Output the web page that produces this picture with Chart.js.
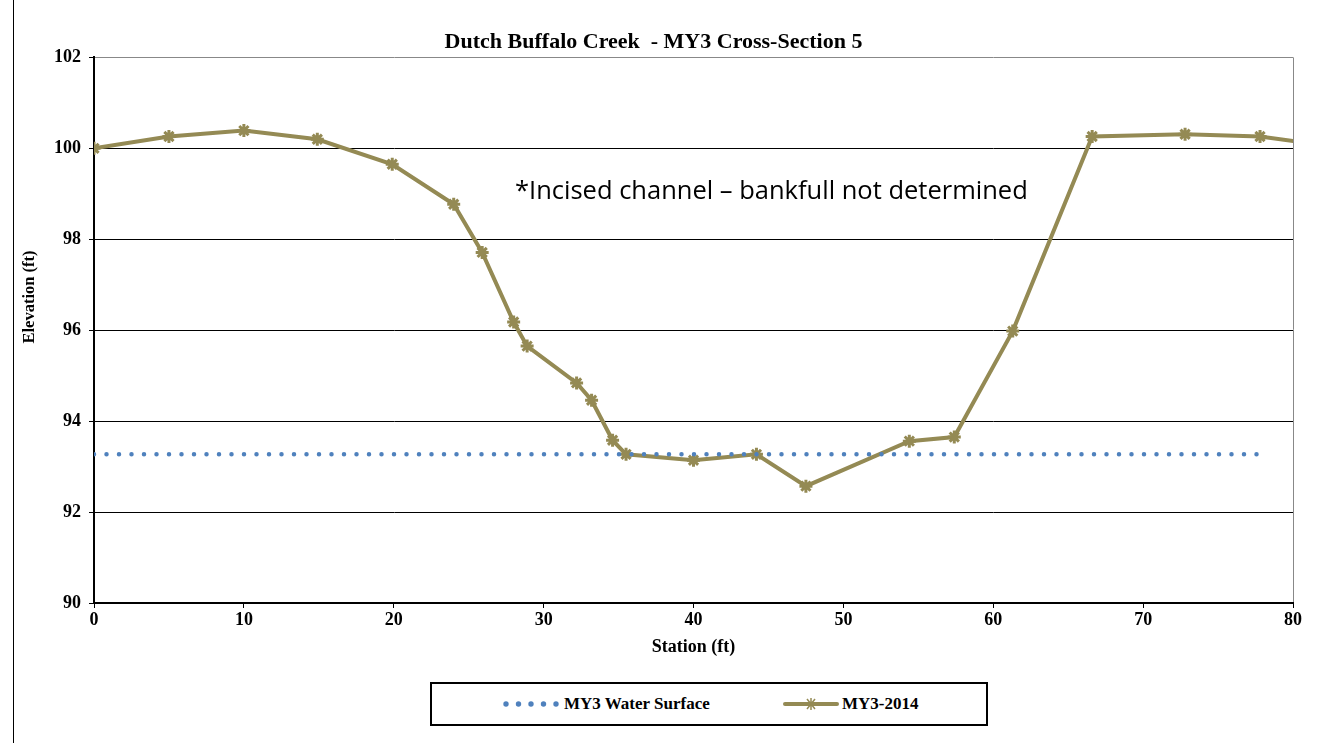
<!DOCTYPE html>
<html>
<head>
<meta charset="utf-8">
<script src="https://cdn.jsdelivr.net/npm/chart.js@4.4.1/dist/chart.umd.min.js"></script>
<style>
    html, body { margin: 0; padding: 0; background: #fff; }
    #wrap { position: relative; width: 1336px; height: 743px; overflow: hidden; }
    #frame { position: absolute; left: 13px; top: 0; width: 1px; height: 743px; background: #000; }
    #note { position: absolute; left: 515px; top: 172px; font: 25.5px "Open Sans", sans-serif; color: #000; white-space: nowrap; }
    #legend { position: absolute; left: 430px; top: 682px; width: 554px; height: 40px; border: 2px solid #000; background: #fff;
        font: bold 17px "Liberation Serif", serif; }
    .item { position: absolute; top: 10px; display: flex; align-items: center; }
</style>
</head>
<body>
<div id="wrap">
    <canvas id="chart" width="1336" height="743"></canvas>
    <div id="frame"></div>
    <div id="note">*Incised channel – bankfull not determined</div>
    <div id="legend">
        <div class="item" style="left:71px"><canvas id="lg1" width="56" height="16" style="margin-right:5px"></canvas><span>MY3 Water Surface</span></div>
        <div class="item" style="left:351px"><canvas id="lg2" width="56" height="16" style="margin-right:3px"></canvas><span>MY3-2014</span></div>
    </div>
</div>
<script>
// cross-section survey, station (ft) vs elevation (ft)
const stations = [0, 5, 10, 14.9, 19.9, 24.0, 25.9, 28.0, 28.9, 32.2, 33.2, 34.6, 35.5, 40.0, 44.2, 47.5, 54.4, 57.4, 61.3, 66.6, 72.8, 77.8, 82.5];
const elevations = [100.0, 100.26, 100.39, 100.2, 99.65, 98.77, 97.71, 96.18, 95.65, 94.84, 94.46, 93.58, 93.27, 93.14, 93.27, 92.57, 93.56, 93.65, 95.98, 100.26, 100.31, 100.26, 100.05];
const waterStations = [0, 77.8];
const waterElevations = [93.27, 93.27];
const xTicks = [0, 10, 20, 30, 40, 50, 60, 70, 80];
const yTicks = [90, 92, 94, 96, 98, 100, 102];

const olive = '#948A54';
const blue = '#4F81BD';
const axisFont = { family: 'Liberation Serif', size: 18, weight: 'bold' };

// y axis title sits a little above the middle of the plot in the original
const yTitle = {
    id: 'yTitle',
    afterDraw(chart) {
        const ctx = chart.ctx;
        ctx.save();
        ctx.translate(30, 297);
        ctx.rotate(-Math.PI / 2);
        ctx.font = 'bold 16.5px "Liberation Serif"';
        ctx.fillStyle = '#000';
        ctx.textAlign = 'center';
        ctx.textBaseline = 'middle';
        ctx.fillText('Elevation (ft)', 0, 0);
        ctx.restore();
    }
};

new Chart(document.getElementById('chart'), {
    type: 'line',
    data: {
        datasets: [{
            label: 'MY3 Water Surface',
            data: waterStations.map((s, i) => ({ x: s, y: waterElevations[i] })),
            borderColor: blue,
            borderWidth: 4.5,
            borderDash: [0, 12.5],
            borderCapStyle: 'round',
            pointRadius: 0,
            fill: false
        }, {
            label: 'MY3-2014',
            data: stations.map((s, i) => ({ x: s, y: elevations[i] })),
            borderColor: olive,
            backgroundColor: olive,
            borderWidth: 4,
            pointStyle: 'star',
            pointRadius: 6.5,
            pointBorderWidth: 3,
            pointBorderColor: olive,
            tension: 0,
            fill: false
        }]
    },
    options: {
        responsive: false,
        animation: false,
        layout: { padding: { left: 14, right: 43, top: 0, bottom: 83 } },
        plugins: {
            legend: { display: false },
            tooltip: { enabled: false },
            title: {
                display: true,
                text: 'Dutch Buffalo Creek  - MY3 Cross-Section 5',
                color: '#000',
                font: { family: 'Liberation Serif', size: 22, weight: 'bold' },
                padding: { top: 29, bottom: 2 }
            }
        },
        scales: {
            x: {
                type: 'linear',
                min: 0,
                max: 80,
                afterBuildTicks: s => { s.ticks = xTicks.map(v => ({ value: v })); },
                afterFit: s => { s.height = 57; },
                ticks: { color: '#000', font: axisFont, padding: 2 },
                grid: {
                    color: c => c.tick && c.tick.value === 80 ? '#888' : 'rgba(0,0,0,0)',
                    tickColor: '#000',
                    tickLength: 5
                },
                border: { color: '#000', width: 2 },
                title: {
                    display: true,
                    text: 'Station (ft)',
                    color: '#000',
                    font: axisFont,
                    padding: { top: 2, bottom: 2 }
                }
            },
            y: {
                min: 90,
                max: 102,
                afterBuildTicks: s => { s.ticks = yTicks.map(v => ({ value: v })); },
                afterFit: s => { s.width = 80; },
                ticks: { color: '#000', font: axisFont, padding: 8 },
                grid: {
                    color: c => c.tick && c.tick.value === 102 ? '#888' : '#000',
                    tickColor: '#000',
                    tickLength: 5
                },
                border: { color: '#000', width: 2 },
                title: { display: false }
            }
        }
    },
    plugins: [yTitle]
});

// legend samples
const l1 = document.getElementById('lg1').getContext('2d');
l1.fillStyle = blue;
for (let i = 0; i < 5; i++) {
    l1.beginPath();
    l1.arc(3 + i * 12.5, 8, 2.7, 0, Math.PI * 2);
    l1.fill();
}
const l2 = document.getElementById('lg2').getContext('2d');
l2.strokeStyle = olive;
l2.lineWidth = 4;
l2.lineCap = 'round';
l2.beginPath(); l2.moveTo(2, 8); l2.lineTo(54, 8); l2.stroke();
l2.lineWidth = 1.5;
l2.lineCap = 'butt';
l2.beginPath();
l2.moveTo(24, 3); l2.lineTo(32, 13); l2.moveTo(32, 3); l2.lineTo(24, 13);
l2.moveTo(28, 2); l2.lineTo(28, 14);
l2.stroke();
</script>
</body>
</html>
